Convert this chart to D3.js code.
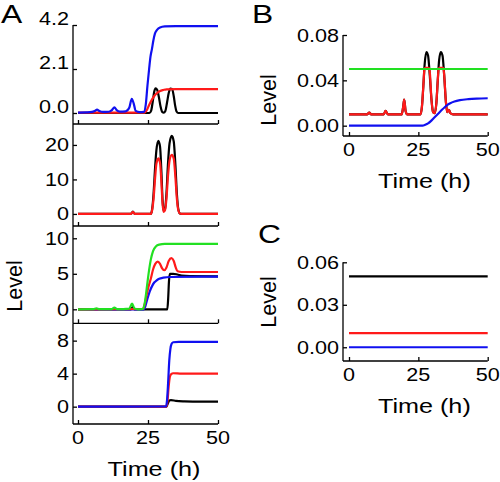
<!DOCTYPE html>
<html><head><meta charset="utf-8">
<script src="https://cdn.jsdelivr.net/npm/d3@7"></script>
<style>body{margin:0;background:#fff}svg{display:block}text{font-family:"Liberation Sans",Arial,sans-serif;fill:#000}</style>
</head><body>
<svg id="c" width="500" height="482"></svg>
<script>
// ---------- data (time in h, level) ----------
const xTicks = [0, 25, 50];
const a1Ticks = [0, 2.1, 4.2];
const a2Ticks = [0, 10, 20];
const a3Ticks = [0, 5, 10];
const a4Ticks = [0, 4, 8];
const bTicks = [0, 0.04, 0.08];
const cTicks = [0, 0.03, 0.06];

const a1Black = [[0,0],[25.5,0],[26.1,0.1],[26.7,0.55],[27.2,1.0],[27.7,1.18],[28.3,1.1],[28.9,0.75],[29.5,0.3],[30.1,0.05],[30.6,0.02],[31.2,0.1],[31.8,0.5],[32.4,0.95],[33,1.17],[33.6,1.15],[34.2,0.8],[34.7,0.35],[35.2,0.07],[35.8,0],[50,0]];
const a1Red = [[0,0.02],[23.8,0.02],[24.5,0.12],[25.2,0.32],[25.7,0.46],[26.5,0.66],[27.5,0.86],[28.4,0.97],[29.3,1.05],[30.5,1.1],[31.6,1.13],[35,1.14],[50,1.14]];
const a1Blue = [[0,0.02],[3,0.03],[5,0.05],[6,0.1],[6.8,0.16],[7.6,0.1],[9,0.05],[11,0.06],[12.2,0.15],[13,0.27],[13.8,0.14],[15,0.07],[17,0.08],[18.3,0.25],[19.2,0.68],[19.9,0.45],[20.6,0.1],[22,0.04],[23.5,0.05],[24.2,0.4],[24.8,1.3],[25.4,2.1],[25.9,2.7],[26.4,3.05],[26.9,3.45],[27.5,3.8],[28.3,3.98],[29.3,4.08],[31,4.13],[35,4.15],[50,4.15]];

const a2Black = [[0,0],[18.9,0],[19.6,0.7],[20.3,0],[26,0],[26.5,1.5],[27,6],[27.5,13],[28,18.5],[28.7,21.2],[29.3,19.5],[29.8,12],[30.2,4],[30.6,0.8],[31.1,1.5],[31.6,6],[32.1,14],[32.7,20.5],[33.5,22.6],[34.2,21],[34.8,14],[35.3,6],[35.8,1.5],[36.4,0.1],[37,0],[50,0]];
const a2Red = [[0,0],[18.9,0],[19.6,0.6],[20.3,0],[26,0],[26.5,1.2],[27,4.5],[27.5,10],[28,14.5],[28.7,16.1],[29.3,14.8],[29.8,9],[30.2,3],[30.6,0.6],[31.1,1.2],[31.6,4.5],[32.1,10.5],[32.7,15.5],[33.5,17.1],[34.2,16],[34.8,10.5],[35.3,4.5],[35.8,1.2],[36.4,0.1],[37,0],[50,0]];

const a3Black = [[0,0],[18.9,0],[19.5,0.3],[20.1,0],[31.9,0],[32.2,1.5],[32.5,4.0],[32.8,5.0],[34,5.0],[35.5,4.9],[37,4.75],[40,4.68],[50,4.65]];
const a3Blue = [[0,0],[23.5,0],[24.1,0.5],[24.8,1.5],[25.6,2.5],[26.5,3.3],[27.3,3.8],[28,4.05],[29,4.3],[30.5,4.45],[33,4.55],[50,4.6]];
const a3Red = [[0,0],[23.2,0.05],[23.8,0.7],[24.5,2.0],[25.2,3.2],[26,4.3],[26.8,5.6],[27.6,6.4],[28.5,6.7],[29.3,6.4],[30,5.8],[30.8,5.5],[31.6,5.9],[32.4,6.8],[33.4,7.2],[34.2,6.8],[34.9,5.9],[35.6,5.35],[37,5.25],[50,5.25]];
const a3Green = [[0,0],[5.5,0.02],[6.6,0.15],[7.5,0.02],[12,0.02],[13,0.25],[14,0.02],[18.3,0.1],[19.3,0.8],[20.2,0.1],[21.5,0],[23.2,0.05],[23.8,0.8],[24.5,2.8],[25.2,5.0],[26,7.0],[26.8,8.2],[27.8,8.85],[29,9.1],[31,9.2],[50,9.2]];

const a4Black = [[0,0],[31.6,0],[32.1,0.4],[32.6,0.75],[33.2,0.8],[35,0.7],[38,0.64],[44,0.6],[50,0.6]];
const a4Red = [[0,0],[31.6,0],[32.0,0.8],[32.4,2.5],[32.8,3.6],[33.3,3.95],[34,4.05],[37,4.0],[50,4.0]];
const a4Blue = [[0,0],[31.4,0.02],[31.8,0.8],[32.2,3.0],[32.6,5.6],[33.0,7.0],[33.4,7.6],[34,7.8],[36,7.85],[50,7.85]];

const bBlack = [[0,0.01],[6.5,0.01],[7.3,0.0115],[8,0.01],[12.5,0.01],[13.2,0.013],[14,0.01],[19,0.01],[19.5,0.016],[19.9,0.023],[20.4,0.013],[21,0.01],[25.8,0.01],[26.3,0.017],[26.8,0.035],[27.3,0.055],[27.9,0.065],[28.5,0.062],[29.1,0.045],[29.7,0.024],[30.3,0.012],[30.9,0.011],[31.5,0.02],[32,0.04],[32.5,0.058],[33.1,0.065],[33.7,0.062],[34.3,0.045],[34.9,0.022],[35.4,0.012],[36,0.014],[36.6,0.011],[37.5,0.01],[50,0.01]];
const bRed = [[0,0.01],[6.5,0.01],[7.3,0.0115],[8,0.01],[12.5,0.01],[13.2,0.013],[14,0.01],[19,0.01],[19.5,0.016],[19.9,0.023],[20.4,0.013],[21,0.01],[25.8,0.01],[26.3,0.017],[26.8,0.035],[27.2,0.05],[27.5,0.051],[28.9,0.051],[29.2,0.045],[29.7,0.024],[30.3,0.012],[30.9,0.011],[31.5,0.02],[32,0.04],[32.3,0.05],[32.6,0.051],[34.0,0.051],[34.3,0.045],[34.9,0.022],[35.4,0.012],[36,0.014],[36.6,0.011],[37.5,0.01],[50,0.01]];
const bGreen = [[0,0.05],[50,0.05]];
const bBlue = [[0,0],[26.5,0],[27.5,0.0008],[28.5,0.002],[29.5,0.004],[30.5,0.0065],[31.5,0.009],[32.5,0.0115],[33.5,0.014],[34.5,0.0163],[35.5,0.0183],[36.5,0.0198],[38,0.0213],[40,0.0225],[43,0.0234],[46,0.0239],[50,0.0242]];

const cBlack = [[0,0.05],[50,0.05]];
const cRed = [[0,0.01],[50,0.01]];
const cBlue = [[0,0],[50,0]];

// ---------- style ----------
const COL = {black:"#000000", red:"#ff1a1a", blue:"#1010f0", green:"#22e022"};
const svg = d3.select("#c");
const SX = 1.2; // horizontal stretch of the original lettering

function htext(x, y, str, size, anchor){
  svg.append("text").attr("transform",`translate(${x},${y}) scale(${SX},1)`)
    .attr("text-anchor",anchor).style("font-size",size+"px").text(str);
}

function panel(o){
  const x = d3.scaleLinear().domain([0,50]).range(o.xr);
  const y = d3.scaleLinear().domain(o.yd).range(o.yr);
  const g = svg.append("g");
  // x axis at bottom with inward ticks
  const xa = g.append("g").attr("transform",`translate(0,${o.yr[0]})`)
    .call(d3.axisBottom(x).tickValues(xTicks).tickSize(-4).tickFormat(""));
  xa.select(".domain").attr("d",`M${o.axisLeft},0H${x(50)}`);
  // y axis with inward ticks
  const ya = g.append("g").attr("transform",`translate(${o.axisLeft},0)`)
    .call(d3.axisLeft(y).tickValues(o.yt).tickSize(-4).tickFormat(""));
  ya.select(".domain").attr("d",`M0,${o.yr[0]}V${o.yr[1]}`);
  g.selectAll(".domain").attr("stroke","#000").attr("stroke-width",1.3);
  g.selectAll(".tick line").attr("stroke","#000").attr("stroke-width",1.3);
  // y tick labels
  o.yt.forEach(v=>htext(o.axisLeft-4, y(v)+6.5+(o.labShift||0), o.fmt(v), 18, "end"));
  if(o.xlabels){
    xTicks.forEach(v=>htext(x(v), o.yr[0]+20, String(v), 18, "middle"));
    htext(x(25)+6, o.yr[0]+52, "Time (h)", 21, "middle");
  }
  const line = d3.line().x(d=>x(d[0])).y(d=>y(d[1])).curve(d3.curveMonotoneX);
  o.series.forEach(([data,c])=>{
    g.append("path").datum(data).attr("d",line).attr("fill","none")
      .attr("stroke",COL[c]).attr("stroke-width",2.2).attr("stroke-linejoin","round");
  });
}

const xrA = [78,218], xrB = [349,487.7];
panel({xr:xrA, axisLeft:73, yd:[-0.525,4.2], yr:[124,25], yt:a1Ticks, fmt:d3.format(".1f"), labShift:-7,
  series:[[a1Black,"black"],[a1Red,"red"],[a1Blue,"blue"]]});
panel({xr:xrA, axisLeft:73, yd:[-3.5,26.07], yr:[226,124], yt:a2Ticks, fmt:d3.format("d"),
  series:[[a2Black,"black"],[a2Red,"red"]]});
panel({xr:xrA, axisLeft:73, yd:[-1.97,11.73], yr:[323.3,226], yt:a3Ticks, fmt:d3.format("d"),
  series:[[a3Black,"black"],[a3Blue,"blue"],[a3Red,"red"],[a3Green,"green"]]});
panel({xr:xrA, axisLeft:73, yd:[-2.1,10.1], yr:[424,323.3], yt:a4Ticks, fmt:d3.format("d"), xlabels:true,
  series:[[a4Black,"black"],[a4Red,"red"],[a4Blue,"blue"]]});
panel({xr:xrB, axisLeft:343, yd:[-0.0091,0.08], yr:[136,35], yt:bTicks, fmt:d3.format(".2f"), xlabels:true,
  series:[[bBlack,"black"],[bRed,"red"],[bGreen,"green"],[bBlue,"blue"]]});
panel({xr:xrB, axisLeft:343, yd:[-0.0097,0.06], yr:[361,262.3], yt:cTicks, fmt:d3.format(".2f"), xlabels:true,
  series:[[cBlack,"black"],[cRed,"red"],[cBlue,"blue"]]});

// panel letters
htext(1, 23, "A", 26.5, "start");
htext(252, 23, "B", 26.5, "start");
htext(258, 243, "C", 26.5, "start");

// rotated y titles
function vtext(cx, cy, str){
  svg.append("text").attr("transform",`translate(${cx+7.7},${cy}) rotate(-90)`)
    .attr("text-anchor","middle").style("font-size","21.5px").text(str);
}
vtext(14, 286, "Level");
vtext(268, 100, "Level");
vtext(268, 302, "Level");
</script>
</body></html>
